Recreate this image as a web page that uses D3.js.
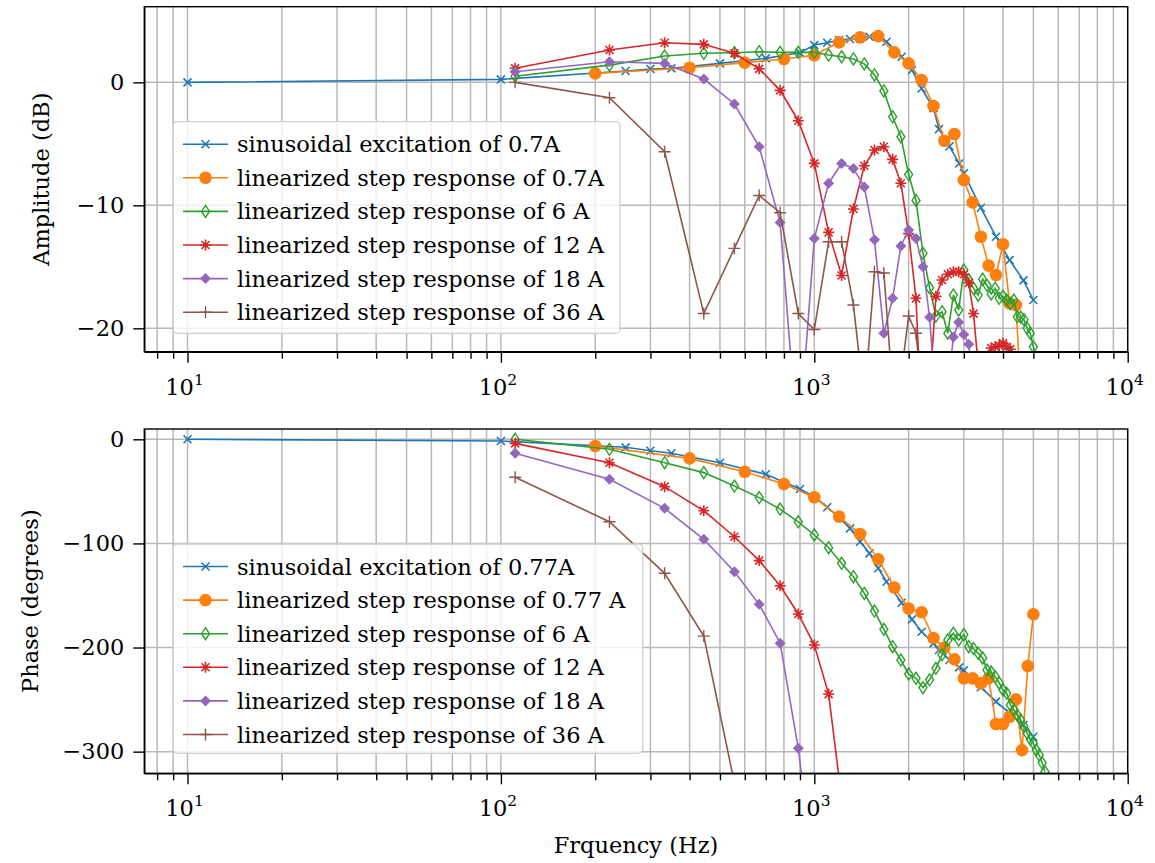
<!DOCTYPE html>
<html>
<head>
<meta charset="utf-8">
<script src="https://d3js.org/d3.v7.min.js"></script>
<style>
body { margin: 0; background: #fff; }
svg text { font-family: "DejaVu Serif", "Liberation Serif", serif; fill: #000; }
.grid line { stroke: #b8b8b8; stroke-width: 1.5px; }
.axis path, .axis line { stroke: #000; stroke-width: 1.4px; }
</style>
</head>
<body>
<svg id="chart" width="1155" height="863"></svg>
<script>
// ---- data ----
// sinusoidal excitation
var freqSine = [10, 100, 250, 300, 350, 500, 700, 900, 1000, 1100, 1200, 1300, 1400, 1500, 1600, 1700, 1900, 2050, 2200, 2400, 2500, 2700, 2900, 3000, 3400, 3800, 4200, 4650, 5000];
var magSine = [0, 0.24, 0.92, 1.08, 1.14, 1.54, 1.95, 2.4, 3.03, 3.22, 3.44, 3.52, 3.58, 3.71, 3.71, 3.3, 2.08, 1.0, -0.5, -2.1, -3.8, -5.2, -6.6, -7.4, -10.2, -12.55, -14.45, -16.1, -17.7];
var phaseSine = [0, -1.6, -7.7, -11, -13.4, -22.5, -33.6, -47.7, -55, -65.3, -75, -85.5, -98.4, -109.5, -123.9, -136.8, -157, -173, -184.8, -196, -202.4, -212, -219, -222, -238, -252, -263, -274.4, -285.7];

// linearized step response, low current (200 Hz spacing)
var freqLow = [200, 400, 600, 800, 1000, 1200, 1400, 1600, 1800, 2000, 2200, 2400, 2600, 2800, 3000, 3200, 3400, 3600, 3800, 4000, 4200, 4400, 4600, 4800, 5000];
var magLow = [0.73, 1.19, 1.6, 1.9, 2.2, 3.25, 3.66, 3.76, 2.44, 1.54, 0.19, -1.93, -4.75, -4.2, -7.94, -9.76, -12.55, -14.9, -15.67, -13.17, -17.97, -18.1, -27, -29, -28];
var phaseLow = [-6.4, -18.3, -31.1, -42.9, -55.7, -74.3, -91, -115.3, -142.3, -162.5, -166.1, -190.9, -200, -211.2, -229.6, -229.6, -234.4, -229.6, -273.5, -273.5, -266.5, -249.8, -298.5, -217.8, -168.1];

// linearized step responses (111 Hz harmonics)
var freqStep = [111, 222, 333, 444, 556, 667, 778, 889, 1000, 1111, 1222, 1333, 1444, 1556, 1667, 1778, 1889, 2000, 2111, 2222, 2333, 2444, 2556, 2667, 2778, 2889, 3000, 3111, 3222, 3333, 3444, 3556, 3667, 3778, 3889, 4000, 4111, 4222, 4333, 4444, 4556, 4667, 4778, 4889, 5000, 5111, 5222, 5333, 5444];

var mag6 = [0.5, 1.4, 2.14, 2.36, 2.41, 2.49, 2.44, 2.44, 2.44, 2.22, 2.08, 1.9, 1.5, 0.6, -0.7, -2.8, -4.42, -7.5, -9.6, -13.9, -16.7, -19.0, -18.65, -20.4, -17.3, -18.5, -15.26, -16.07, -16.75, -17.3, -16.0, -16.5, -17.2, -16.75, -17.56, -17.4, -17.7, -17.97, -17.7, -19.06, -19.1, -19.3, -20.0, -20.4, -21.5, -22.5, -23.5, -24.5, -25.2];
var phase6 = [0, -9.6, -22.5, -32, -44.9, -56, -67, -79.2, -91.9, -104.1, -119.1, -132, -148, -165, -182.5, -199.2, -212, -225.5, -229.6, -238.5, -231, -220, -207, -192.8, -186.4, -192.8, -187.5, -199.2, -201, -205.6, -210, -221.6, -223.5, -228, -234, -240.8, -244, -255.2, -260, -265, -269.6, -276, -282.4, -288.2, -292, -298.5, -303.3, -310.7, -319.3];

var mag12 = [1.14, 2.63, 3.22, 3.09, 2.36, 1.1, -0.65, -3.12, -6.59, -12.2, -15.7, -10.3, -6.78, -5.5, -5.24, -6.26, -8.2, -12.3, -17.56, -30, -25, -17.4, -16.07, -15.6, -15.4, -15.4, -15.6, -16.3, -18.8, -23, -27, -23.5, -21.6, -21.5, -21.4, -21.2, -21.5, -21.7, -24, -27];
var phase12 = [-3.9, -22.5, -45.5, -68.6, -93.6, -116.5, -140.7, -167.8, -197.6, -244.7, -345];

var mag18 = [0.86, 1.67, 1.54, 0.27, -1.76, -5.24, -11.4, -30, -12.7, -8.2, -6.6, -7.0, -8.5, -12.8, -20.4, -17.56, -13.3, -12.0, -12.7, -15.0, -19.1, -26, -30, -25, -20.7, -19.5, -20.5, -21.3, -25];
var phase18 = [-13.4, -38.4, -66.3, -96, -127.2, -158.5, -195.8, -296.8, -420];

var mag36 = [0, -1.25, -5.64, -18.8, -13.5, -9.2, -10.6, -18.8, -20.1, -12.96, -12.96, -18.1, -26, -15.4, -15.5, -25, -24, -19.0, -20.4, -26];
var phase36 = [-36.5, -79.2, -128.7, -189, -330];

var labelsTop = ["sinusoidal excitation of 0.7A", "linearized step response of 0.7A", "linearized step response of 6 A",
  "linearized step response of 12 A", "linearized step response of 18 A", "linearized step response of 36 A"];
var labelsBottom = ["sinusoidal excitation of 0.77A", "linearized step response of 0.77 A", "linearized step response of 6 A",
  "linearized step response of 12 A", "linearized step response of 18 A", "linearized step response of 36 A"];

var colors = ["#1f77b4", "#ff7f0e", "#2ca02c", "#d62728", "#9467bd", "#8c564b"];
var markers = ["x", "o", "d", "*", "D", "+"];
var fs = "22.5px";

function pairs(f, v) { return v.map(function(d, i) { return {f: f[i], v: d}; }); }

var svg = d3.select("#chart");
svg.append("rect").attr("width", 1155).attr("height", 863).attr("fill", "#fff");

var left = 144.3, right = 1127.7;
var x = d3.scaleLog().domain([7.28, 10000]).range([left, right]);
var majorX = [10, 100, 1000, 10000];
var minorX = [8, 9];
[10, 100, 1000].forEach(function(b) { for (var m = 2; m <= 9; m++) minorX.push(b * m); });

// marker shapes
function drawMarker(g, type, color) {
  if (type === "x") {
    g.append("path").attr("d", "M-4,-4L4,4M-4,4L4,-4").attr("stroke", color).attr("stroke-width", 1.6).attr("fill", "none");
  } else if (type === "+") {
    g.append("path").attr("d", "M-6,0L6,0M0,-6L0,6").attr("stroke", color).attr("stroke-width", 1.4).attr("fill", "none");
  } else if (type === "o") {
    g.append("circle").attr("r", 6.3).attr("fill", color);
  } else if (type === "d") {
    g.append("path").attr("d", "M0,-6L4,0L0,6L-4,0Z").attr("stroke", color).attr("stroke-width", 1.4).attr("fill", "none");
  } else if (type === "D") {
    g.append("path").attr("d", "M0,-5.5L5.5,0L0,5.5L-5.5,0Z").attr("fill", color);
  } else if (type === "*") {
    g.append("path").attr("d", "M0,-5.5L0,5.5M-5.5,0L5.5,0M-4,-4L4,4M-4,4L4,-4")
      .attr("stroke", color).attr("stroke-width", 1.6).attr("fill", "none");
    g.append("circle").attr("r", 2).attr("fill", color);
  }
}

function panel(cfg) {
  var y = d3.scaleLinear().domain(cfg.domain).range([cfg.y1, cfg.y0]);
  var clipId = "clip" + cfg.id;
  svg.append("clipPath").attr("id", clipId).append("rect")
    .attr("x", left).attr("y", cfg.y0).attr("width", right - left).attr("height", cfg.y1 - cfg.y0);

  // grid
  var grid = svg.append("g").attr("class", "grid");
  grid.selectAll("line.v").data(majorX.concat(minorX)).enter().append("line")
    .attr("x1", function(d) { return x(d); }).attr("x2", function(d) { return x(d); })
    .attr("y1", cfg.y0).attr("y2", cfg.y1);
  grid.selectAll("line.h").data(cfg.yticks).enter().append("line")
    .attr("x1", left).attr("x2", right)
    .attr("y1", function(d) { return y(d); }).attr("y2", function(d) { return y(d); });

  // series
  var plot = svg.append("g").attr("clip-path", "url(#" + clipId + ")");
  var line = d3.line().x(function(d) { return x(d.f); }).y(function(d) { return y(d.v); });
  cfg.series.forEach(function(s, i) {
    var data = pairs(s[0], s[1]);
    plot.append("path").datum(data).attr("d", line)
      .attr("fill", "none").attr("stroke", colors[i]).attr("stroke-width", 1.6);
    plot.selectAll(null).data(data).enter().append("g")
      .attr("transform", function(d) { return "translate(" + x(d.f) + "," + y(d.v) + ")"; })
      .each(function() { drawMarker(d3.select(this), markers[i], colors[i]); });
  });

  // axes
  svg.append("g").attr("class", "axis").attr("transform", "translate(0," + cfg.y1 + ")")
    .call(d3.axisBottom(x).tickValues(majorX).tickSize(11).tickSizeOuter(0).tickFormat(""));
  svg.append("g").attr("class", "axis").attr("transform", "translate(0," + cfg.y1 + ")")
    .call(d3.axisBottom(x).tickValues(minorX).tickSize(7).tickSizeOuter(0).tickFormat(""))
    .select(".domain").remove();
  var ya = svg.append("g").attr("class", "axis").attr("transform", "translate(" + left + ",0)")
    .call(d3.axisLeft(y).tickValues(cfg.yticks).tickSize(11).tickSizeOuter(0).tickPadding(9)
      .tickFormat(function(d) { return d < 0 ? "\u2212" + (-d) : d; }));
  ya.selectAll("text").style("font-size", fs).attr("font-family", null);
  svg.append("rect").attr("x", left).attr("y", cfg.y0).attr("width", right - left).attr("height", cfg.y1 - cfg.y0)
    .attr("fill", "none").attr("stroke", "#000").attr("stroke-width", 1.4);

  // x tick labels 10^k
  var xl = svg.append("g").selectAll("text").data(majorX).enter().append("text")
    .attr("x", function(d) { return x(d) - 3; }).attr("y", cfg.y1 + 43)
    .attr("text-anchor", "middle").style("font-size", fs);
  xl.append("tspan").text("10");
  xl.append("tspan").attr("dy", -10).style("font-size", "15.5px").text(function(d) { return Math.round(Math.log10(d)); });

  // y label
  svg.append("text").attr("transform", "translate(" + cfg.labelX + "," + ((cfg.y0 + cfg.y1) / 2) + ") rotate(-90)")
    .attr("text-anchor", "middle").style("font-size", fs).text(cfg.ylabel);

  // legend
  var lg = svg.append("g");
  lg.append("rect").attr("x", cfg.legend[0]).attr("y", cfg.legend[1]).attr("width", cfg.legend[2]).attr("height", cfg.legend[3])
    .attr("rx", 4).attr("fill", "#fff").attr("fill-opacity", 0.8).attr("stroke", "#d0d0d0").attr("stroke-width", 1.3);
  cfg.labels.forEach(function(t, i) {
    var ry = cfg.legend[1] + 22.5 + i * 33.6;
    lg.append("line").attr("x1", 183).attr("x2", 228).attr("y1", ry).attr("y2", ry)
      .attr("stroke", colors[i]).attr("stroke-width", 1.6);
    drawMarker(lg.append("g").attr("transform", "translate(205.5," + ry + ")"), markers[i], colors[i]);
    lg.append("text").attr("x", 237).attr("y", ry + 8).style("font-size", fs).text(t);
  });
}

panel({
  id: "top", y0: 6.7, y1: 351.7, domain: [-21.9, 6.15], yticks: [-20, -10, 0],
  ylabel: "Amplitude (dB)", labelX: 49, labels: labelsTop, legend: [173.3, 121.7, 446.7, 211.6],
  series: [[freqSine, magSine], [freqLow, magLow], [freqStep, mag6], [freqStep, mag12], [freqStep, mag18], [freqStep, mag36]]
});
panel({
  id: "bottom", y0: 429, y1: 773.3, domain: [-320.8, 9.9], yticks: [-300, -200, -100, 0],
  ylabel: "Phase (degrees)", labelX: 38, labels: labelsBottom, legend: [173.3, 544, 469.4, 209.3],
  series: [[freqSine, phaseSine], [freqLow, phaseLow], [freqStep, phase6], [freqStep, phase12], [freqStep, phase18], [freqStep, phase36]]
});

svg.append("text").attr("x", (left + right) / 2).attr("y", 853).attr("text-anchor", "middle")
  .style("font-size", fs).text("Frquency (Hz)");
</script>
</body>
</html>
